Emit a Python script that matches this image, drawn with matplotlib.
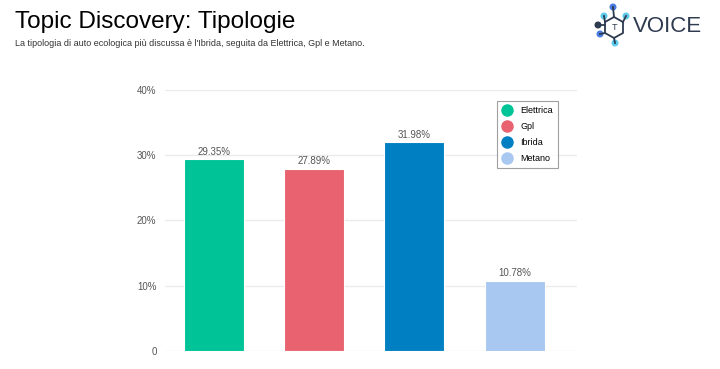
import matplotlib
matplotlib.use("Agg")
import matplotlib.pyplot as plt
from matplotlib.lines import Line2D
from matplotlib.patches import Circle

categories = ["Elettrica", "Gpl", "Ibrida", "Metano"]
values = [29.35, 27.89, 31.98, 10.78]
colors = ["#00C497", "#E8636F", "#0080C3", "#A8C8F1"]
yticks = [0, 10, 20, 30, 40]
yticklabels = ["0", "10%", "20%", "30%", "40%"]

plt.rcParams['font.family'] = ['Liberation Sans', 'DejaVu Sans']

fig = plt.figure(figsize=(7.2, 3.69), dpi=100)
ax = fig.add_axes([0.229, 0.049, 0.572, 0.707])

x = list(range(len(categories)))
bars = ax.bar(x, values, width=0.6, color=colors, edgecolor="white", linewidth=0.8, zorder=3)
for xi, v in zip(x, values):
    ax.text(xi, v + 0.4, f"{v:.2f}%", ha="center", va="bottom", fontsize=7, color="#555555")

ax.set_xlim(-0.49, 3.62)
ax.set_ylim(0, 40)
ax.set_yticks(yticks)
ax.set_yticklabels(yticklabels, fontsize=7, color="#555555")
ax.set_xticks([])
ax.tick_params(axis="y", length=0, pad=6)
ax.grid(axis="y", color="#EBEBEB", linewidth=1, zorder=0)
for s in ax.spines.values():
    s.set_visible(False)

handles = [Line2D([0], [0], marker="o", linestyle="", markersize=8,
                  markerfacecolor=c, markeredgecolor=c) for c in colors]
leg = ax.legend(handles, categories, loc="upper left", bbox_to_anchor=(0.795, 0.975),
                fontsize=6.5, frameon=True, fancybox=False, edgecolor="#888888",
                handletextpad=0.9, borderpad=0.6, labelspacing=0.75, handlelength=1.1)
leg.get_frame().set_linewidth(0.8)

fig.text(15/720, 1 - 22/369, "Topic Discovery: Tipologie", fontsize=17.5, va="center", ha="left", color="black")
fig.text(15/720, 1 - 43/369, "La tipologia di auto ecologica più discussa è l'Ibrida, seguita da Elettrica, Gpl e Metano.",
         fontsize=6.5, va="center", ha="left", color="#333333")

# logo
lax = fig.add_axes([588/720, 1 - 50/369, 60/720, 48/369])
lax.set_xlim(0, 60)
lax.set_ylim(48, 0)
lax.axis("off")
pts = [(25, 5, "#4A7BE0"), (16, 14, "#5FCBEA"), (38, 14, "#5FCBEA"),
       (12, 32, "#4A7BE0"), (27, 41, "#5FCBEA"), (10, 23, "#2D3A4F")]
for (px, py, c) in pts:
    lax.add_patch(Circle((px, py), 2.8, color=c))
hexx = [26, 35, 35, 26, 17, 17, 26]
hexy = [15, 20, 31, 36, 31, 20, 15]
lax.plot(hexx, hexy, color="#2D3A4F", lw=1.3)
lax.plot([25, 26], [5, 15], color="#2D3A4F", lw=1.3)
lax.plot([16, 17], [14, 20], color="#2D3A4F", lw=1.3)
lax.plot([38, 35], [14, 20], color="#2D3A4F", lw=1.3)
lax.plot([10, 17], [23, 23], color="#2D3A4F", lw=1.3)
lax.plot([12, 17], [32, 31], color="#2D3A4F", lw=1.3)
lax.plot([27, 26], [41, 36], color="#2D3A4F", lw=1.3)
lax.text(26, 25.5, "T", ha="center", va="center", fontsize=6.5, color="#2D3A4F")
fig.text(633/720, 1 - 27/369, "VOICE", fontsize=16, va="center", ha="left", color="#2D3A4F")

fig.savefig("out.png", dpi=100)
